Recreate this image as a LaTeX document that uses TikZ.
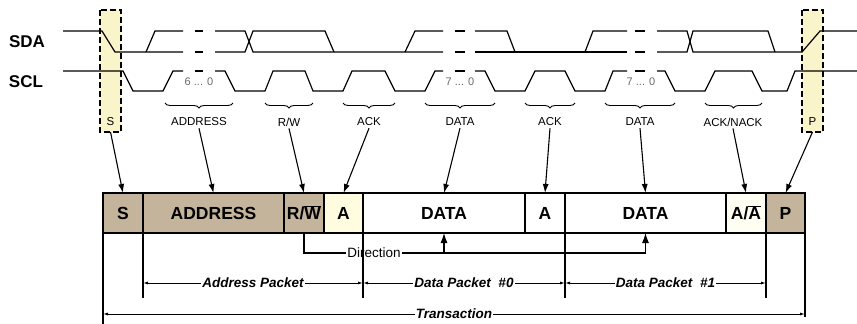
\documentclass[tikz,border=0pt]{standalone}
\usepackage{fontspec}
\setmainfont{Liberation Sans}
\usetikzlibrary{positioning,arrows.meta,decorations.pathreplacing,calc}

\definecolor{celltan}{RGB}{196,180,156}
\definecolor{cellyel}{RGB}{255,252,224}
\definecolor{markyel}{RGB}{249,244,202}
\definecolor{bitgray}{RGB}{105,105,105}

\newcommand{\sigfnt}{\fontsize{17}{19}\selectfont\bfseries}
\newcommand{\cellfnt}{\fontsize{17.5}{19}\selectfont\bfseries}
\newcommand{\lblfnt}{\fontsize{11.5}{13}\selectfont}
\newcommand{\bitfnt}{\fontsize{11}{13}\selectfont\color{bitgray}}
\newcommand{\pkfnt}{\fontsize{13.5}{15}\selectfont\bfseries\itshape}

\tikzset{
  wave/.style={line width=1.2pt},
  cell/.style={draw, line width=1.1pt, outer sep=0pt, inner sep=0pt, minimum height=40pt, font=\cellfnt},
  lbl/.style={font=\lblfnt, inner sep=2pt},
  conn/.style={line width=1.1pt, -{Latex[length=9pt,width=6pt]}},
  brc/.style={decorate, decoration={brace, mirror, amplitude=5pt}, line width=0.9pt},
  pkarrow/.style={line width=0.9pt, {Latex[length=5pt,width=3pt]}-{Latex[length=5pt,width=3pt]}},
  pklabel/.style={fill=white, inner sep=1pt, font=\pkfnt},
  markbox/.style={fill=markyel, minimum width=21pt, minimum height=122pt, inner sep=0pt, outer sep=0pt},
  dashbox/.style={line width=1.9pt, dash pattern=on 6pt off 3pt},
}

\begin{document}
\begin{tikzpicture}[x=1pt, y=-1pt]
  \useasboundingbox (0,0) rectangle (857,324);

  % Start / Stop markers
  \node[markbox] (sbox) at (110.5,71) {};
  \node[markbox] (pbox) at (812.5,71) {};

  % Signal names
  \node[font=\sigfnt] (sda) at (27,42) {SDA};
  \node[font=\sigfnt] (scl) at (26,82) {SCL};

  % SDA
  \draw[wave] (63,31) -- (102,31) -- (115,52) -- (183,52);
  \draw[wave] (146,52) -- (155,31) -- (183,31);
  \draw[wave] (195,31) -- (203,31) (195,52) -- (203,52);
  \draw[wave] (215,52) -- (245,52) -- (253,31) -- (325,31) -- (334,52);
  \draw[wave] (215,31) -- (245,31) -- (253,52) -- (443,52);
  \draw[wave] (405,52) -- (415,31) -- (443,31);
  \draw[wave] (455,31) -- (465,31) (455,52) -- (465,52);
  \draw[wave] (475,31) -- (507,31) -- (515,52);
  \draw[wave] (475,52) -- (627,52);
  \draw[wave] (585,52) -- (593,31) -- (627,31);
  \draw[wave] (635,31) -- (645,31) (635,52) -- (645,52);
  \draw[wave] (657,31) -- (687,31) -- (693,52) -- (802,52) -- (820,31) -- (857,31);
  \draw[wave] (657,52) -- (687,52) -- (693,31) -- (768,31) -- (775,52);

  % SCL
  \draw[wave] (63,71) -- (123,71) -- (133,91) -- (163,91) -- (173,71) -- (183,71);
  \draw[wave] (195,71) -- (203,71);
  \draw[wave] (215,71) -- (225,71) -- (235,91) -- (265,91) -- (273,71) -- (305,71)
    -- (313,91) -- (343,91) -- (352,71) -- (385,71) -- (395,91) -- (425,91) -- (435,71) -- (443,71);
  \draw[wave] (455,71) -- (465,71);
  \draw[wave] (475,71) -- (485,71) -- (495,91) -- (525,91) -- (535,71) -- (565,71)
    -- (575,91) -- (605,91) -- (613,71) -- (627,71);
  \draw[wave] (635,71) -- (645,71);
  \draw[wave] (657,71) -- (665,71) -- (675,91) -- (705,91) -- (715,71) -- (752,71)
    -- (762,91) -- (787,91) -- (795,71) -- (857,71);

  \node[font=\bitfnt] (bits0) at (199,82) {6 ... 0};
  \node[font=\bitfnt] (bits1) at (460,82) {7 ... 0};
  \node[font=\bitfnt] (bits2) at (641,82) {7 ... 0};

  \draw[dashbox] (sbox.north west) rectangle (sbox.south east);
  \draw[dashbox] (pbox.north west) rectangle (pbox.south east);

  % Braces and field names
  \draw[brc] (165,103) -- (233,103);
  \draw[brc] (265,103) -- (313,103);
  \draw[brc] (343,103) -- (395,103);
  \draw[brc] (425,103) -- (495,103);
  \draw[brc] (525,103) -- (575,103);
  \draw[brc] (605,103) -- (675,103);
  \draw[brc] (705,103) -- (762,103);

  \node[lbl] (ls) at (110.5,122) {S};
  \node[lbl] (laddr) at (199,122) {ADDRESS};
  \node[lbl] (lrw) at (289,122) {R/W};
  \node[lbl] (lack1) at (369,122) {ACK};
  \node[lbl] (ldata1) at (460,122) {DATA};
  \node[lbl] (lack2) at (550,122) {ACK};
  \node[lbl] (ldata2) at (640,122) {DATA};
  \node[lbl] (lackn) at (733,122) {ACK/NACK};
  \node[lbl] (lp) at (812.5,122) {P};

  % Frame
  \node[cell, fill=celltan, minimum width=40pt] (s) at (123,213) {S};
  \node[cell, fill=celltan, minimum width=141pt, right=0pt of s] (addr) {ADDRESS};
  \node[cell, fill=celltan, minimum width=40pt, right=0pt of addr] (rw) {R/$\overline{\hbox{W}}$};
  \node[cell, fill=cellyel, minimum width=39pt, right=0pt of rw] (a1) {A};
  \node[cell, fill=white, minimum width=162pt, right=0pt of a1] (d1) {DATA};
  \node[cell, fill=white, minimum width=40pt, right=0pt of d1] (a2) {A};
  \node[cell, fill=white, minimum width=161pt, right=0pt of a2] (d2) {DATA};
  \node[cell, fill=cellyel!40, minimum width=40pt, right=0pt of d2] (an) {A/$\overline{\hbox{A}}$};
  \node[cell, fill=celltan, minimum width=39pt, right=0pt of an] (p) {P};

  \foreach \f/\t in {sbox/s, laddr/addr, lrw/rw, lack1/a1, ldata1/d1, lack2/a2, ldata2/d2, lackn/an, pbox/p}
    \draw[conn] (\f.south) -- (\t.north);

  % Direction
  \path (rw.south) ++(0,20) coordinate (dirl);
  \draw[line width=1.1pt, -{Latex[length=10pt,width=7pt]}] (rw.south) -- (dirl) -| (d2.south);
  \draw[line width=1.1pt, -{Latex[length=10pt,width=7pt]}] (d1.south |- dirl) -- (d1.south);
  \node[fill=white, inner sep=1pt, font=\fontsize{13.5}{15}\selectfont] (dir) at (374,253) {Direction};

  % Packets
  \coordinate (pk) at (0,283);
  \coordinate (tr) at (0,314);
  \coordinate (pe) at (0,298);
  \draw[line width=1.1pt] (s.south west) -- ++(0,91);
  \draw[line width=1.1pt] (p.south east) -- ++(0,84);
  \foreach \c in {addr.south west, a1.south east, a2.south east, an.south east}
    \draw[line width=1.1pt] (\c) -- (\c |- pe);

  \draw[pkarrow] (addr.south west |- pk) -- node[pklabel] {Address Packet} (a1.south east |- pk);
  \draw[pkarrow] (a1.south east |- pk) -- node[pklabel] {Data Packet \ \#0} (a2.south east |- pk);
  \draw[pkarrow] (a2.south east |- pk) -- node[pklabel] {Data Packet \ \#1} (an.south east |- pk);
  \draw[pkarrow] (s.south west |- tr) -- node[pklabel] {Transaction} (p.south east |- tr);
\end{tikzpicture}
\end{document}
